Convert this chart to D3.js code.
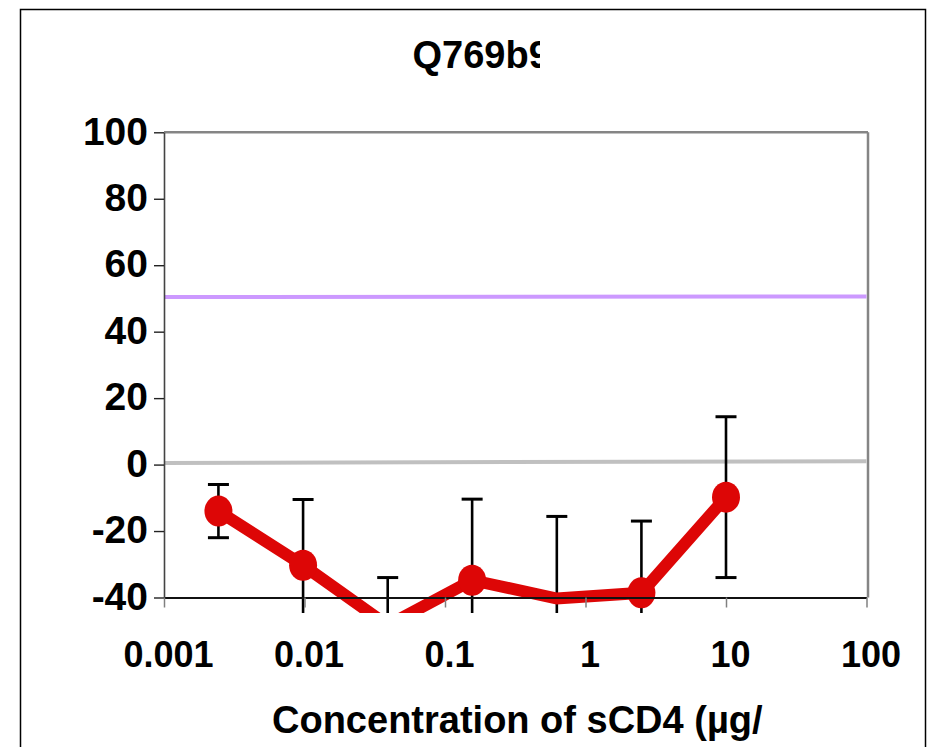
<!DOCTYPE html>
<html>
<head>
<meta charset="utf-8">
<script src="https://cdn.jsdelivr.net/npm/d3@7"></script>
<style>
html, body { margin: 0; padding: 0; background: #fff; }
svg { display: block; }
text { font-family: "Liberation Sans", Arial, sans-serif; font-weight: bold; fill: #000; }
</style>
</head>
<body>
<svg id="chart" width="927" height="747"></svg>
<script>
// ---- data ----
const chartTitle = "Q769b9";
const xAxisTitle = "Concentration of sCD4 (µg/ml)";
const concentrations = [0.00244, 0.00977, 0.0391, 0.156, 0.625, 2.5, 10];
const inhibition = [-14.0, -30.3, -48.4, -34.8, -40.3, -38.6, -9.8];
const errors = [8.0, 19.8, 14.4, 24.4, 24.7, 21.6, 24.2];
const refX = [0.001, 100];
const ref50 = [50.4, 50.6];
const ref0 = [0.5, 1.0];
const xTicks = [0.001, 0.01, 0.1, 1, 10, 100];
const xTickLabels = ["0.001", "0.01", "0.1", "1", "10", "100"];
const yTicks = [-40, -20, 0, 20, 40, 60, 80, 100];

// ---- layout ----
const svg = d3.select("#chart");
const plotL = 164, plotR = 866.5, plotT = 132.3, plotB = 597.5;

const x = d3.scaleLog().domain([0.001, 100]).range([plotL, plotR]);
const y = d3.scaleLinear().domain([-40, 100]).range([plotB, plotT]);

// outer frame
svg.append("rect").attr("x", 20.5).attr("y", 9.5).attr("width", 905).attr("height", 800)
  .attr("fill", "none").attr("stroke", "#000").attr("stroke-width", 1.5);

const defs = svg.append("defs");
defs.append("clipPath").attr("id", "plotClip").append("rect")
  .attr("x", plotL).attr("y", plotT).attr("width", plotR - plotL + 4).attr("height", 613 - plotT);
defs.append("clipPath").attr("id", "titleClip").append("rect")
  .attr("x", 0).attr("y", 0).attr("width", 540).attr("height", 120);
defs.append("clipPath").attr("id", "xtitleClip").append("rect")
  .attr("x", 0).attr("y", 650).attr("width", 764).attr("height", 100);

// title
svg.append("text").attr("clip-path", "url(#titleClip)")
  .attr("x", 412.5).attr("y", 68).attr("font-size", 38).text(chartTitle);

// plot frame: top and right (gray)
svg.append("line").attr("x1", plotL).attr("x2", plotR + 1.5).attr("y1", plotT).attr("y2", plotT)
  .attr("stroke", "#858585").attr("stroke-width", 2.5);
svg.append("line").attr("x1", plotR + 1.5).attr("x2", plotR + 1.5).attr("y1", plotT).attr("y2", plotB)
  .attr("stroke", "#858585").attr("stroke-width", 2.5);

const plot = svg.append("g").attr("clip-path", "url(#plotClip)");

// reference lines
const refLine = d3.line().x((d, i) => x(refX[i])).y(d => y(d));
plot.append("path").datum(ref50).attr("d", refLine)
  .attr("fill", "none").attr("stroke", "#cc99ff").attr("stroke-width", 4);
plot.append("path").datum(ref0).attr("d", refLine)
  .attr("fill", "none").attr("stroke", "#c0c0c0").attr("stroke-width", 4);

// axes
const yAxis = d3.axisLeft(y).tickValues(yTicks).tickSize(10).tickSizeOuter(0).tickPadding(6)
  .tickFormat(d => String(d));
const gy = svg.append("g").attr("transform", `translate(${plotL},0)`).call(yAxis);
gy.select(".domain").attr("stroke", "#444").attr("stroke-width", 1.6);
gy.selectAll(".tick line").attr("stroke", "#222").attr("stroke-width", 1.4);
gy.selectAll(".tick text").attr("font-size", 39).attr("font-family", "Liberation Sans, Arial, sans-serif")
  .attr("font-weight", "bold").attr("fill", "#000").attr("dy", "0.3em");

const xAxis = d3.axisBottom(x).tickValues(xTicks).tickSize(10).tickSizeOuter(0).tickPadding(34)
  .tickFormat((d, i) => xTickLabels[i]);
const gx = svg.append("g").attr("transform", `translate(0,${plotB})`).call(xAxis);
gx.select(".domain").attr("stroke", "#111").attr("stroke-width", 2);
gx.selectAll(".tick line").attr("stroke", "#808080").attr("stroke-width", 1.5);
gx.selectAll(".tick text").attr("font-size", 36).attr("font-family", "Liberation Sans, Arial, sans-serif")
  .attr("font-weight", "bold").attr("fill", "#000").attr("dx", 4);

// data
const pts = concentrations.map((c, i) => ({ c, v: inhibition[i], e: errors[i] }));

// error bars
const eb = plot.append("g").attr("stroke", "#000").attr("stroke-width", 2.6).attr("fill", "none");
pts.forEach(p => {
  const cx = x(p.c);
  eb.append("line").attr("x1", cx).attr("x2", cx).attr("y1", y(p.v + p.e)).attr("y2", y(p.v - p.e));
  eb.append("line").attr("x1", cx - 10.5).attr("x2", cx + 10.5).attr("y1", y(p.v + p.e)).attr("y2", y(p.v + p.e)).attr("stroke-width", 3);
  eb.append("line").attr("x1", cx - 10.5).attr("x2", cx + 10.5).attr("y1", y(p.v - p.e)).attr("y2", y(p.v - p.e)).attr("stroke-width", 3);
});

// series line
const line = d3.line().x(d => x(d.c)).y(d => y(d.v));
plot.append("path").datum(pts).attr("d", line)
  .attr("fill", "none").attr("stroke", "#dd0606").attr("stroke-width", 12).attr("stroke-linejoin", "miter");

// markers (only for points inside the axis range)
plot.selectAll("ellipse.mk").data(pts.filter(p => p.v >= -40 && p.v <= 100)).enter()
  .append("ellipse").attr("class", "mk")
  .attr("cx", d => x(d.c)).attr("cy", d => y(d.v)).attr("rx", 14).attr("ry", 15.5)
  .attr("fill", "#dd0606");

// x axis title
svg.append("text").attr("clip-path", "url(#xtitleClip)")
  .attr("x", 272).attr("y", 733).attr("font-size", 38).text(xAxisTitle);
</script>
</body>
</html>
